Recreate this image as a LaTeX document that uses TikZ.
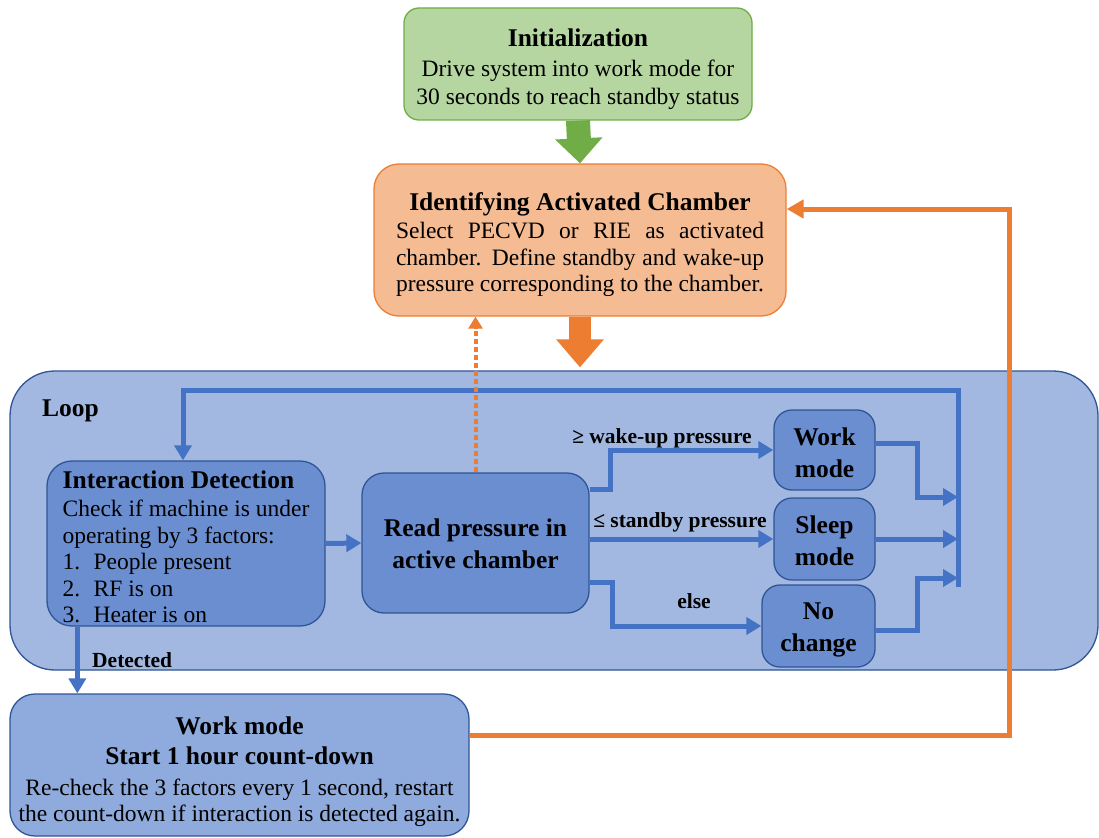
\documentclass[tikz,border=0pt]{standalone}
\usepackage{fontspec}
\setmainfont{Liberation Serif}
\usetikzlibrary{arrows.meta,calc}
\definecolor{gfill}{HTML}{B5D6A1}
\definecolor{gline}{HTML}{70AD47}
\definecolor{ofill}{HTML}{F5BB93}
\definecolor{oline}{HTML}{ED7D31}
\definecolor{loopfill}{HTML}{A2B8E0}
\definecolor{boxfill}{HTML}{6B8ED0}
\definecolor{blueln}{HTML}{4472C4}
\definecolor{bdark}{HTML}{2F5597}
\definecolor{workfill}{HTML}{8FAADC}
\newcommand\bodyfs{\fontsize{23.5}{26.5}\selectfont}
\newcommand\initfs{\fontsize{23.5}{28}\selectfont}
\newcommand\titlefs{\fontsize{25.5}{30}\selectfont\bfseries}
\newcommand\labfs{\fontsize{21.5}{24}\selectfont\bfseries}
\begin{document}
\begin{tikzpicture}[x=1pt,y=-1pt,
  basebox/.style={draw, line width=1.3pt, align=center, inner sep=0pt},
  rbox/.style={basebox, draw=bdark, fill=boxfill, rounded corners=18pt, font=\titlefs},
  barrow/.style={draw=blueln, line width=5pt, -{Triangle[length=15pt,width=17pt]}},
  oarrow/.style={draw=oline, line width=5pt, -{Triangle[length=17pt,width=18pt]}},
  lab/.style={font=\labfs, inner sep=0pt},
]
\clip (0,0) rectangle (1099,837);
\fill[white] (0,0) rectangle (1099,837);

% top boxes
\node[basebox, draw=gline, fill=gfill, rounded corners=15pt, minimum width=348pt, minimum height=112pt, font=\initfs]
  (init) at (578,64) {{\titlefs\rule{0pt}{28pt}Initialization}\\[2pt] Drive system into work mode for\\ 30 seconds to reach standby status};

\node[basebox, draw=oline, fill=ofill, rounded corners=25pt, minimum width=412pt, minimum height=152pt]
  (orange) at (580,240) {\begin{minipage}{368pt}\bodyfs
    \vspace*{9pt}
    {\centering\titlefs Identifying Activated Chamber\par}
    \vspace{2pt}
    Select PECVD or RIE as activated\linebreak chamber. Define standby and wake-up\linebreak pressure corresponding to the chamber.\end{minipage}};

\draw[draw=gline, line width=24pt, -{Triangle[length=25pt,width=46pt]}] (init.south) -- (orange.north);

% loop container
\node[basebox, draw=bdark, fill=loopfill, rounded corners=45pt, minimum width=1088pt, minimum height=299pt]
  (loop) at (554,520.5) {};
\node[lab, font=\titlefs, anchor=west] (looplab) at (42,411) {Loop};

\draw[draw=oline, line width=22pt, -{Triangle[length=28pt,width=46pt]}] (orange.south) -- ($(orange.south |- loop.north)+(0,-3)$);

% inner boxes
\node[rbox, rounded corners=25pt, minimum width=278pt, minimum height=165pt, align=left, font=\bodyfs]
  (idbox) at (186,543.5) {{\titlefs\rule{0pt}{24pt}Interaction Detection}\\[2pt]
   Check if machine is under\\ operating by 3 factors:\\
   \makebox[31pt][l]{1.}People present\\
   \makebox[31pt][l]{2.}RF is on\\
   \makebox[31pt][l]{3.}Heater is on};
\node[rbox, rounded corners=22pt, minimum width=227pt, minimum height=140pt]
  (read) at (475.5,543) {\rule{0pt}{20pt}Read pressure in\\[2pt] active chamber};
\node[rbox, minimum width=101pt, minimum height=80pt] (worksm) at (824.5,450) {\rule{0pt}{24pt}Work\\[2pt] mode};
\node[rbox, minimum width=101pt, minimum height=82pt] (sleep) at (824.5,539) {\rule{0pt}{22pt}Sleep\\[2pt] mode};
\node[rbox, minimum width=113pt, minimum height=82pt] (noch) at (818.5,626) {\rule{0pt}{25pt}No\\[2pt] change};

% bottom work box
\node[basebox, draw=bdark, fill=workfill, rounded corners=25pt, minimum width=459pt, minimum height=142pt, font=\bodyfs]
  (work) at (239.5,765) {{\titlefs\rule{0pt}{31pt}Work mode}\\[4pt] {\titlefs Start 1 hour count-down}\\[4pt]
   Re-check the 3 factors every 1 second, restart\\ the count-down if interaction is detected again.};

% blue connectors
\draw[barrow] (idbox.east) -- (read.west);
\draw[barrow] ($(read.north east)+(0,17)$) -- ++(21,0) |- (worksm.west);
\draw[barrow] (read.east |- sleep.west) -- (sleep.west);
\draw[barrow] ($(read.south east)+(0,-31)$) -- ++(23,0) |- (noch.west);

\coordinate (bartop) at (958,390);
\coordinate (barbot) at (958,587);
\coordinate (m1) at (958,497);
\coordinate (m3) at (958,578);
\draw[barrow] ($(worksm.east)+(0,-7)$) -- ++(42,0) |- (m1);
\draw[barrow] (sleep.east) -- (sleep.east -| bartop);
\draw[barrow] ($(noch.east)+(0,4)$) -- ++(42,0) |- (m3);
\draw[barrow] (barbot) -- (bartop) -| ($(idbox.north)+(-3,0)$);

\coordinate (dstart) at ($(idbox.south west)+(31,0)$);
\draw[barrow] (dstart) -- (dstart |- work.north);

% labels
\node[lab] (l1) at (662,438) {≥ wake-up pressure};
\node[lab] (l2) at (680,522) {≤ standby pressure};
\node[lab] (l3) at (694,601) {else};
\node[lab, anchor=west] (l4) at (92,660) {Detected};

% orange connectors
\draw[draw=oline, line width=4pt, dash pattern=on 5pt off 3pt, -{Triangle[length=12pt,width=14pt]}]
  (read.north) -- (read.north |- orange.south);
\coordinate (oc) at (1009,209);
\draw[oarrow] ($(work.north east)+(0,42)$) -| (oc) -- (orange.east |- oc);
\end{tikzpicture}
\end{document}
